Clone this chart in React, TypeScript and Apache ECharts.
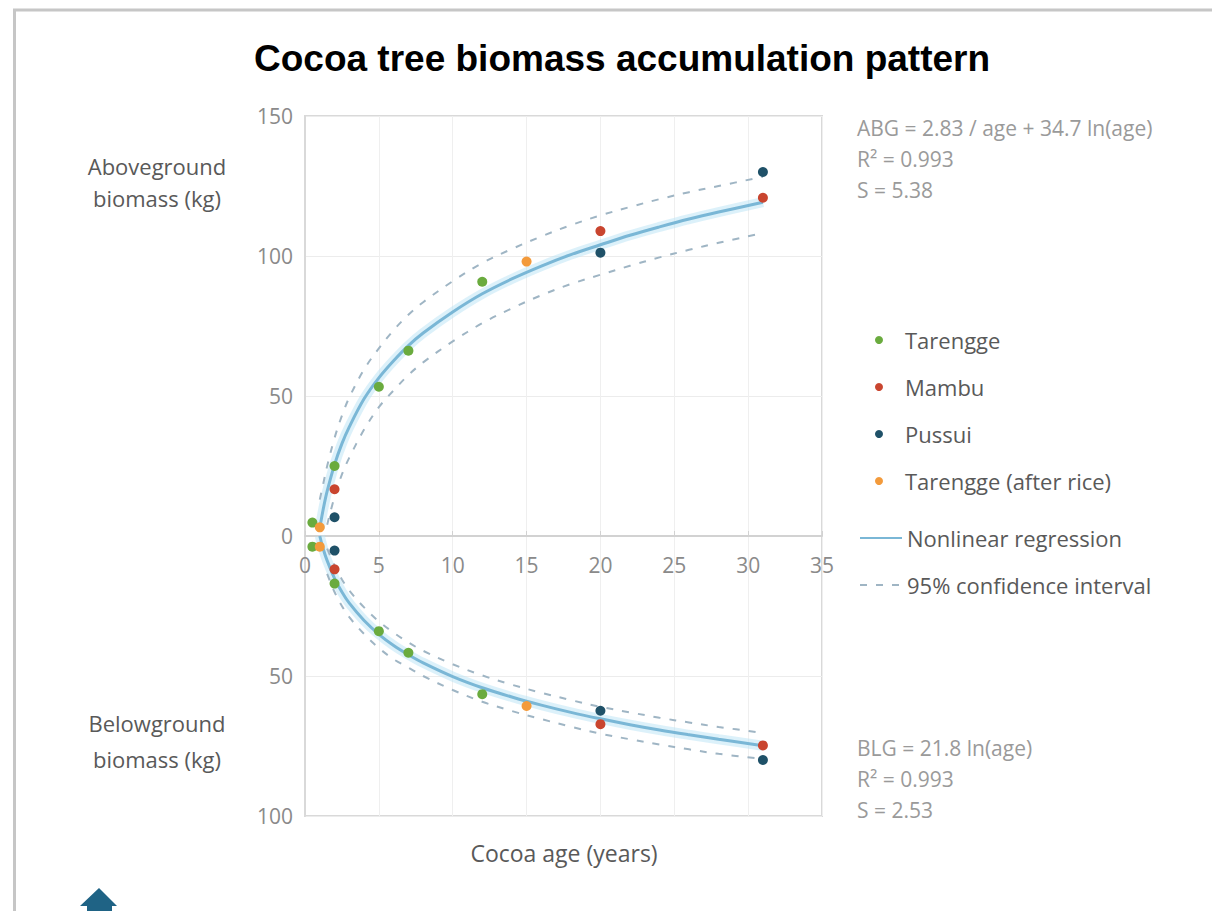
import React, { useEffect, useRef } from "react";
import * as echarts from "echarts";

// ---------- data ----------
const tarenggeAge = [0.5, 2, 5, 7, 12];
const tarenggeAbove = [4.8, 25, 53.3, 66.2, 90.8];
const tarenggeBelow = [3.8, 17, 34, 41.7, 56.5];

const mambuAge = [2, 20, 31];
const mambuAbove = [16.7, 108.9, 120.8];
const mambuBelow = [11.9, 67.2, 74.8];

const pussuiAge = [2, 20, 31];
const pussuiAbove = [6.7, 101.2, 130];
const pussuiBelow = [5.2, 62.4, 80];

const riceAge = [1, 15];
const riceAbove = [3.1, 98];
const riceBelow = [3.8, 60.7];

// fitted curves and confidence bands
const fitAge = [1, 1.25, 1.5, 2, 2.5, 3, 4, 5, 6, 7, 8, 10, 12, 14, 16, 18, 20, 22, 24, 26, 28, 31];
const abgFit = [2.8, 10, 16, 25.5, 33, 39, 49, 56.5, 62.6, 68, 72.5, 80, 86.5, 91.8, 96.4, 100.5, 104, 107.4, 110.4, 113.2, 115.7, 119.2];
const abgUpper = [13, 19, 25, 35, 43, 49.5, 59.5, 67, 73.5, 79, 83.5, 91, 97.5, 102.5, 107, 111, 114.5, 117.5, 120.3, 122.8, 125, 128.3];
const bandAge = [1.5, 2, 2.5, 3, 4, 5, 6, 7, 8, 10, 12, 14, 16, 18, 20, 22, 24, 26, 28, 31];
const abgLower = [4, 14, 22, 28, 38, 46, 52, 57.5, 62, 69.5, 76, 81.3, 86, 90, 93.3, 96.5, 99.5, 102.2, 104.7, 108.2];

const blgFit = [0, 4.9, 8.8, 15.1, 20, 24, 30.2, 35.1, 39.1, 42.4, 45.3, 50.2, 54.2, 57.5, 60.4, 63, 65.3, 67.4, 69.3, 71, 72.6, 74.9];
const blgUpper = [4.5, 10.5, 15.5, 19.5, 25.5, 30.5, 34.5, 38, 41, 45.8, 49.8, 53.1, 56, 58.6, 61, 63, 64.9, 66.6, 68.2, 70.3];
const blgLower = [13.5, 20, 25, 29, 35, 40, 44, 47, 50, 55, 59.2, 62.5, 65.4, 68.1, 70.6, 72.6, 74.5, 76.2, 77.8, 79.6];

const xTicks = { min: 0, max: 35, step: 5 };
const aboveTicks = { min: 0, max: 150, step: 50 };
const belowTicks = { min: 0, max: 100, step: 50 };

const FONT = "Open Sans";

const pairs = (xs: number[], ys: number[]) => xs.map((x, i) => [x, ys[i]]);

export default function App() {
  const ref = useRef<HTMLDivElement>(null);
  useEffect(() => {
    if (!ref.current) return;
    const chart = echarts.init(ref.current, undefined, { renderer: "svg" });

    const fitLine = { color: "#7ab7d6", width: 3 };
    const ciLine = { color: "#9fb5c4", width: 2, type: [7, 9] as any };
    const glow = { color: "rgba(185,228,246,0.5)", width: 10 };
    const hiddenSym = { color: "rgba(0,0,0,0)", opacity: 0 };
    const lineBase = { type: "line", symbol: "none", smooth: 0.35, silent: true, itemStyle: hiddenSym };
    const top = { xAxisIndex: 0, yAxisIndex: 0 };
    const bot = { xAxisIndex: 1, yAxisIndex: 1 };

    const scatter = (name: string, color: string, age: number[], ys: number[], ax: any) => ({
      type: "scatter",
      name,
      symbolSize: 10,
      itemStyle: { color, opacity: 1 },
      z: 5,
      ...ax,
      data: pairs(age, ys),
    });

    const tickLabel = { color: "#8a8a8a", fontSize: 21, fontFamily: FONT };
    const splitX = { show: true, lineStyle: { color: "#efefef", width: 1 } };
    const splitY = { show: true, lineStyle: { color: "#ececec", width: 1 } };
    const gridBase = { left: 305, width: 517, show: true, borderColor: "#d9d9d9", borderWidth: 2 };
    const eq = { fontSize: 21, fill: "#9a9a9a", fontFamily: FONT, textVerticalAlign: "middle" };
    const side = { fontSize: 22, fill: "#595959", fontFamily: FONT, textAlign: "center", textVerticalAlign: "middle" };

    chart.setOption({
      animation: false,
      backgroundColor: "#ffffff",
      textStyle: { fontFamily: FONT },
      title: {
        text: "Cocoa tree biomass accumulation pattern",
        left: 249,
        top: 35,
        textStyle: { fontFamily: "Liberation Sans", fontWeight: "bold", fontSize: 37, color: "#000" },
      },
      grid: [
        { ...gridBase, top: 116, height: 420 },
        { ...gridBase, top: 536, height: 280 },
      ],
      xAxis: [
        {
          gridIndex: 0,
          type: "value",
          min: xTicks.min,
          max: xTicks.max,
          interval: xTicks.step,
          position: "bottom",
          axisLine: { onZero: false, lineStyle: { color: "#d2d2d2", width: 2 } },
          axisTick: { show: true, inside: true, length: 5, lineStyle: { color: "#d2d2d2" } },
          axisLabel: { ...tickLabel, margin: 18 },
          splitLine: splitX,
        },
        {
          gridIndex: 1,
          type: "value",
          min: xTicks.min,
          max: xTicks.max,
          interval: xTicks.step,
          position: "top",
          axisLine: { show: false },
          axisTick: { show: false },
          axisLabel: { show: false },
          splitLine: splitX,
        },
      ],
      yAxis: [
        {
          gridIndex: 0,
          type: "value",
          min: aboveTicks.min,
          max: aboveTicks.max,
          interval: aboveTicks.step,
          axisLine: { show: true, lineStyle: { color: "#d9d9d9", width: 2 } },
          axisTick: { show: false },
          axisLabel: { ...tickLabel, margin: 12 },
          splitLine: splitY,
        },
        {
          gridIndex: 1,
          type: "value",
          inverse: true,
          min: belowTicks.min,
          max: belowTicks.max,
          interval: belowTicks.step,
          axisLine: { show: true, lineStyle: { color: "#d9d9d9", width: 2 } },
          axisTick: { show: false },
          axisLabel: { ...tickLabel, margin: 12, showMinLabel: false },
          splitLine: splitY,
        },
      ],
      legend: [
        {
          data: ["Tarengge", "Mambu", "Pussui", "Tarengge (after rice)"],
          orient: "vertical",
          left: 870,
          top: 324,
          itemWidth: 38,
          itemHeight: 8,
          itemGap: 25,
          icon: "circle",
          textStyle: { fontSize: 22, color: "#595959", fontFamily: FONT, lineHeight: 20, padding: [0, 0, 0, 2] },
        },
        {
          data: ["Nonlinear regression", "95% confidence interval"],
          orient: "vertical",
          left: 854,
          top: 522,
          itemWidth: 42,
          itemHeight: 14,
          itemGap: 25,
          itemStyle: { opacity: 0 },
          textStyle: { fontSize: 22, color: "#595959", fontFamily: FONT, lineHeight: 20, padding: [0, 0, 0, 0] },
        },
      ],
      series: [
        { ...lineBase, ...top, name: "glowTop", lineStyle: glow, z: 1, data: pairs(fitAge, abgFit) },
        { ...lineBase, ...bot, name: "glowBottom", lineStyle: glow, z: 1, data: pairs(fitAge, blgFit) },
        { ...lineBase, ...top, name: "95% confidence interval", lineStyle: ciLine, z: 2, data: pairs(fitAge, abgUpper) },
        { ...lineBase, ...top, name: "95% confidence interval", lineStyle: ciLine, z: 2, data: pairs(bandAge, abgLower) },
        { ...lineBase, ...bot, name: "95% confidence interval", lineStyle: ciLine, z: 2, data: pairs(bandAge, blgUpper) },
        { ...lineBase, ...bot, name: "95% confidence interval", lineStyle: ciLine, z: 2, data: pairs(bandAge, blgLower) },
        { ...lineBase, ...top, name: "Nonlinear regression", lineStyle: fitLine, z: 3, data: pairs(fitAge, abgFit) },
        { ...lineBase, ...bot, name: "Nonlinear regression", lineStyle: fitLine, z: 3, data: pairs(fitAge, blgFit) },
        scatter("Tarengge", "#6aab3e", tarenggeAge, tarenggeAbove, top),
        scatter("Tarengge", "#6aab3e", tarenggeAge, tarenggeBelow, bot),
        scatter("Mambu", "#c9452f", mambuAge, mambuAbove, top),
        scatter("Mambu", "#c9452f", mambuAge, mambuBelow, bot),
        scatter("Pussui", "#1f5168", pussuiAge, pussuiAbove, top),
        scatter("Pussui", "#1f5168", pussuiAge, pussuiBelow, bot),
        scatter("Tarengge (after rice)", "#f39a3b", riceAge, riceAbove, top),
        scatter("Tarengge (after rice)", "#f39a3b", riceAge, riceBelow, bot),
      ],
      graphic: [
        { type: "line", shape: { x1: 13, y1: 10, x2: 1212, y2: 10 }, style: { stroke: "#c6c6c6", lineWidth: 3 }, silent: true },
        { type: "line", shape: { x1: 14.5, y1: 9, x2: 14.5, y2: 911 }, style: { stroke: "#c6c6c6", lineWidth: 3 }, silent: true },
        { type: "text", x: 157, y: 166, style: { ...side, text: "Aboveground" } },
        { type: "text", x: 157, y: 198, style: { ...side, text: "biomass (kg)" } },
        { type: "text", x: 157, y: 723, style: { ...side, text: "Belowground" } },
        { type: "text", x: 157, y: 759, style: { ...side, text: "biomass (kg)" } },
        { type: "text", x: 564, y: 853, style: { ...side, fontSize: 23, text: "Cocoa age (years)" } },
        { type: "text", x: 857, y: 128, style: { ...eq, text: "ABG = 2.83 / age + 34.7 ln(age)" } },
        { type: "text", x: 857, y: 159, style: { ...eq, text: "R² = 0.993" } },
        { type: "text", x: 857, y: 190, style: { ...eq, text: "S = 5.38" } },
        { type: "text", x: 857, y: 748, style: { ...eq, text: "BLG = 21.8 ln(age)" } },
        { type: "text", x: 857, y: 779, style: { ...eq, text: "R² = 0.993" } },
        { type: "text", x: 857, y: 810, style: { ...eq, text: "S = 2.53" } },
        {
          type: "polygon",
          shape: { points: [[80, 906], [99, 888], [117, 906], [112, 906], [112, 912], [87, 912], [87, 906]] },
          style: { fill: "#1f6385" },
          silent: true,
        },
      ],
    });
    return () => chart.dispose();
  }, []);
  return <div ref={ref} style={{ position: "absolute", left: 0, top: 0, width: 1212, height: 911 }} />;
}
